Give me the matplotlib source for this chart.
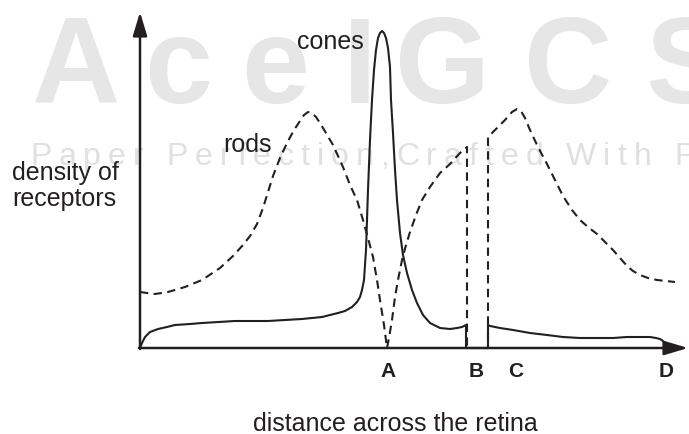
import matplotlib
matplotlib.use("Agg")
import matplotlib.pyplot as plt
from matplotlib.font_manager import FontProperties, findfont, get_font

plt.rcParams['font.family'] = ['Liberation Sans', 'DejaVu Sans']

# ---- data (arbitrary units: distance across retina, receptor density) ----
cones_x = [0, 2, 5, 10, 18, 27, 35, 50, 62, 95, 128, 162, 182, 198, 205, 212, 217,
           220, 222, 224, 225, 226, 227, 228, 230, 232, 234, 236, 238, 240, 242, 244,
           246, 248, 250, 251, 253, 255, 257, 260, 263, 267, 272, 277, 283, 290, 300,
           310, 317, 322, 326, 326, 348, 348, 350, 360, 373, 390, 407, 423, 440, 457,
           473, 487, 500, 510, 516, 520, 523, 526, 528]
cones_y = [0, 5, 11, 16, 19, 21, 23, 24, 25, 27, 27, 29, 31, 35, 37, 41, 46,
           51, 58, 68, 83, 98, 128, 158, 208, 248, 278, 298, 310, 315, 317, 315,
           310, 300, 281, 248, 215, 178, 148, 115, 93, 75, 58, 45, 33, 25, 20,
           19, 20, 21, 23, 0, 0, 23, 22, 20, 18, 15, 13, 11, 10, 10,
           10, 11, 11, 11, 10, 9, 7, 4, 0]

rods_x = [0, 7, 15, 28, 45, 62, 80, 93, 103, 110, 117, 123, 128, 133, 140, 147, 154,
          160, 164, 168, 172, 176, 180, 186, 193, 203, 210, 217, 223, 228, 233, 237,
          240, 244, 247, 249, 252, 255, 258, 262, 266, 270, 276, 282, 290, 300, 310,
          320, 327, 327, 348, 348, 355, 365, 372, 377, 381, 385, 390, 398, 407, 415,
          423, 432, 440, 448, 457, 465, 473, 480, 487, 493, 500, 508, 517, 526, 535]
rods_y = [56, 55, 54, 56, 61, 68, 80, 92, 103, 112, 124, 140, 156, 172, 190, 205, 218,
          227, 233, 236, 235, 231, 225, 215, 203, 181, 163, 148, 128, 110, 91, 68,
          48, 23, 0, 10, 28, 51, 68, 88, 103, 116, 133, 148, 161, 175, 184,
          195, 201, 0, 0, 211, 218, 228, 236, 239, 237, 230, 218, 201, 184, 168,
          152, 138, 128, 121, 114, 106, 98, 90, 82, 77, 73, 70, 68, 67, 66]

points = ['A', 'B', 'C', 'D']
points_x = [248, 336, 376, 526]

ink = '#231f20'
wm_color = '#e6e6e6'

fig = plt.figure(figsize=(6.89, 4.34), dpi=100)
ax = fig.add_axes([0, 0, 1, 1])
ax.set_xlim(-140, 549)
ax.set_ylim(-86, 348)
ax.axis('off')

# ---- watermark ----
big_letters = ['A', 'c', 'e', 'I', 'G', 'C', 'S']
big_x = [-64, 38, 135, 220, 303, 428, 546]
for ch, xc in zip(big_letters, big_x):
    ax.text(xc, 245, ch, fontsize=88, fontweight='bold', color=wm_color,
            ha='center', va='baseline', zorder=0)

line2 = "Paper Perfection,Crafted With P"
font = get_font(findfont(FontProperties(family='Liberation Sans')))
font.set_size(23, 100)
xc = -110
for ch in line2:
    ax.text(xc, 183, ch, fontsize=23, color='#e0e0e0', ha='left',
            va='baseline', zorder=0)
    xc += font.load_char(ord(ch)).linearHoriAdvance / 65536 + 7

# ---- curves ----
ax.plot(cones_x, cones_y, color=ink, lw=1.5, solid_joinstyle='round', zorder=3)
ax.plot(rods_x, rods_y, color=ink, lw=1.5, linestyle=(0, (4, 2.6)), zorder=3)

# ---- axes with arrows ----
arrow = dict(arrowstyle='-|>,head_length=0.8,head_width=0.24', lw=1.8,
             color=ink, shrinkA=0, shrinkB=0, mutation_scale=18)
ax.annotate('', xy=(0, 336), xytext=(0, -1), arrowprops=arrow, zorder=4)
ax.annotate('', xy=(548, 0), xytext=(-1, 0), arrowprops=arrow, zorder=4)

# ---- labels ----
for lab, xp in zip(points, points_x):
    ax.text(xp, -29, lab, fontsize=15, fontweight='bold', color=ink,
            ha='center', va='baseline')

ax.text(157, 306, 'cones', fontsize=18, color=ink, ha='left', va='center')
ax.text(83, 203, 'rods', fontsize=18, color=ink, ha='left', va='center')
ax.text(-128, 168, 'density of', fontsize=18, color=ink, ha='left', va='baseline')
ax.text(-128, 142, 'receptors', fontsize=18, color=ink, ha='left', va='baseline')
ax.text(255, -83, 'distance across the retina', fontsize=18, color=ink,
        ha='center', va='baseline')

fig.savefig('out.png', dpi=100)
